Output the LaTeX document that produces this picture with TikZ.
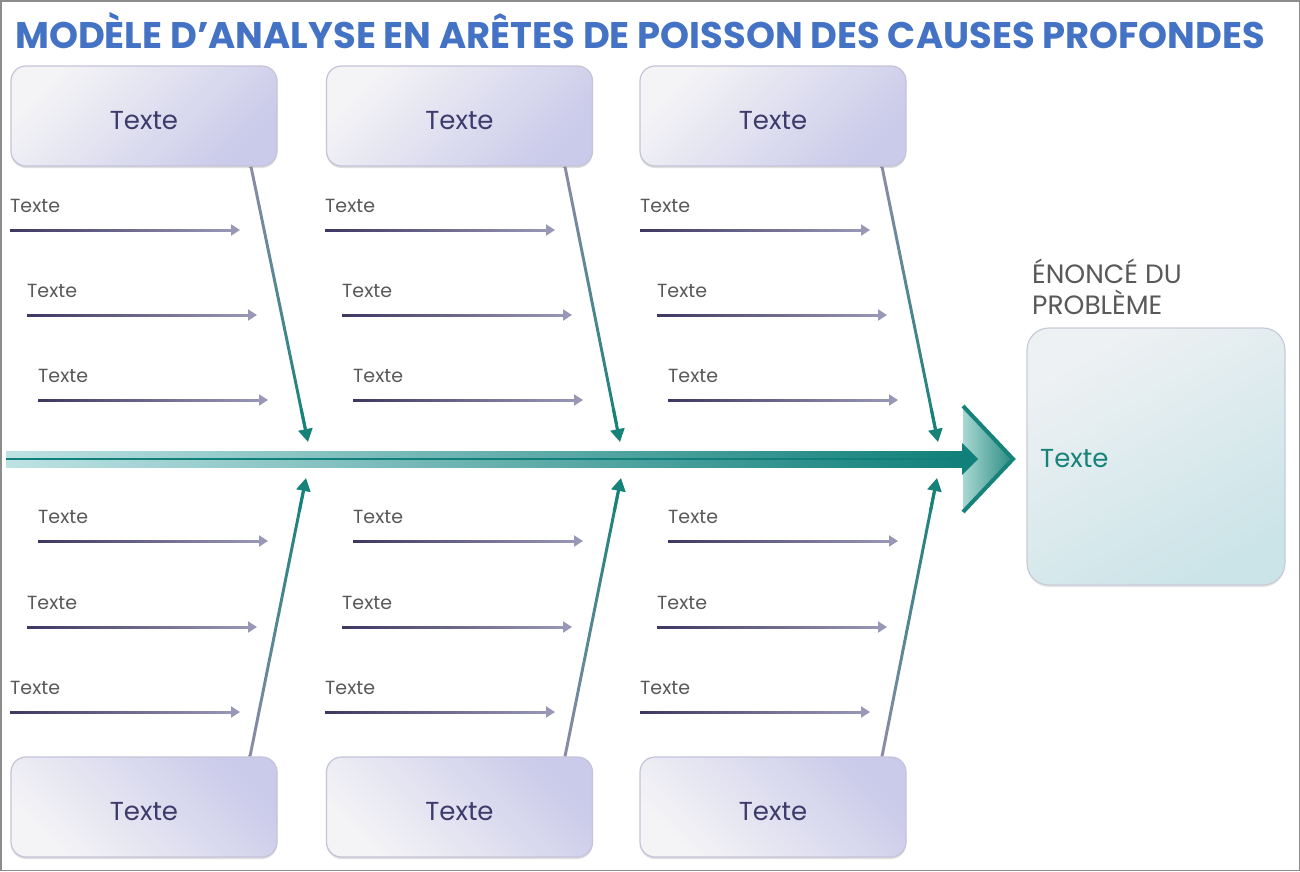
\documentclass[tikz,border=0pt]{standalone}
\usepackage{fontspec}
\setmainfont{Poppins}
\usetikzlibrary{arrows.meta,calc,shadows}
\definecolor{titleblue}{HTML}{4472C4}
\definecolor{boxtext}{HTML}{3E3A6B}
\definecolor{labelgray}{HTML}{595959}
\definecolor{boxlight}{HTML}{F4F4F6}
\definecolor{boxdark}{HTML}{CACAEA}
\definecolor{boxedge}{HTML}{C4C3D8}
\definecolor{myteal}{HTML}{17827A}
\definecolor{bonetop}{HTML}{8D8BA8}
\definecolor{arrdark}{HTML}{3D3862}
\definecolor{arrlight}{HTML}{9997B6}
\definecolor{spinelight}{HTML}{BEE2E3}
\definecolor{spinedark}{HTML}{12807A}
\definecolor{chevlight}{HTML}{A8D8D2}
\definecolor{chevdark}{HTML}{2A8B82}
\definecolor{problight}{HTML}{EEF1F3}
\definecolor{probdark}{HTML}{CBE4E8}
\definecolor{probedge}{HTML}{C9CCD8}
\definecolor{framegray}{HTML}{8C8C8C}
\newlength\titlewd
\newcommand\bonelink[4]{%
  \shade[top color=#3, bottom color=#4]
    ($(#1)+(-1.5,0)$) -- ($(#1)+(1.5,0)$) -- ($(#1)!0.95!(#2)+(1.5,0)$) -- ($(#1)!0.95!(#2)+(-1.5,0)$) -- cycle;
  \draw[myteal, line width=3pt, -{Triangle[length=13pt,width=14pt]}] ($(#1)!0.88!(#2)$) -- (#2);
}
\newcommand\twig[2]{%
  \shade[left color=arrdark, right color=arrlight] ($(#1)+(0,-1)$) rectangle ($(#2)+(-7,1)$);
  \draw[arrlight, line width=2pt, -{Triangle[length=9pt,width=11pt]}] ($(#2)+(-9,0)$) -- (#2);
}
\newcommand\boxtxt[1]{\raisebox{-13pt}[0pt][0pt]{#1}}
\AtBeginDocument{%
  \settowidth\titlewd{\fontsize{37}{40}\selectfont\bfseries MODÈLE D’ANALYSE EN ARÊTES DE POISSON DES CAUSES PROFONDES}%
  \pgfmathsetmacro\tsx{1250pt/\titlewd}%
}
\begin{document}
\begin{tikzpicture}[x=1pt,y=-1pt,
  box/.style={rectangle, rounded corners=15pt, minimum width=266pt, minimum height=100pt,
    draw=boxedge, line width=1.2pt, inner sep=0pt, text=boxtext,
    font=\fontsize{26}{30}\selectfont,
    drop shadow={shadow xshift=0pt, shadow yshift=-2pt, opacity=0.25, fill=gray}},
  topbox/.style={box, top color=boxlight, bottom color=boxdark, shading angle=45},
  botbox/.style={box, top color=boxlight, bottom color=boxdark, shading angle=135},
  lbl/.style={text=labelgray, font=\fontsize{19}{22}\selectfont, inner sep=0pt},
  problbl/.style={text=labelgray, font=\fontsize{26.5}{28}\selectfont, inner sep=0pt, anchor=base west},
  probbox/.style={rectangle, rounded corners=22pt, minimum width=258pt, minimum height=257pt,
    draw=probedge, line width=1.2pt, top color=problight, bottom color=probdark, shading angle=30,
    drop shadow={shadow xshift=0pt, shadow yshift=-2pt, opacity=0.2, fill=gray}},
]
\useasboundingbox (0,0) rectangle (1300,871);
\fill[white] (0,0) rectangle (1300,871);
\draw[framegray, line width=1.5pt] (0.75,0.75) rectangle (1299.25,870.25);

% title
\node[anchor=base west, inner sep=0pt, text=titleblue, font=\fontsize{37}{40}\selectfont\bfseries] (title) at (15,48)
  {\scalebox{\tsx}[1]{MODÈLE D’ANALYSE EN ARÊTES DE POISSON DES CAUSES PROFONDES}};

% spine
\shade[left color=spinelight, right color=spinedark] (6,451) rectangle (962,467);
\draw[spinedark, line width=2pt] (6,459) -- (962,459);
% chevron head
\shade[left color=chevlight, right color=chevdark] (963,408) -- (1013,459) -- (963,510) -- cycle;
\draw[myteal, line width=4pt, line join=miter] (963,406) -- (1013,459) -- (963,512);
\fill[spinedark] (962,443) -- (978,459) -- (962,475) -- cycle;

% boxes
\node[topbox] (t1) at (144,116) {\boxtxt{Texte}};
\node[topbox] (t2) at (459.5,116) {\boxtxt{Texte}};
\node[topbox] (t3) at (773,116) {\boxtxt{Texte}};
\node[botbox] (b1) at (144,807) {\boxtxt{Texte}};
\node[botbox] (b2) at (459.5,807) {\boxtxt{Texte}};
\node[botbox] (b3) at (773,807) {\boxtxt{Texte}};

% junctions on the spine
\coordinate (j1t) at (308,442);
\coordinate (j2t) at (620,442);
\coordinate (j3t) at (938,442);
\coordinate (j1b) at (306,478);
\coordinate (j2b) at (621,478);
\coordinate (j3b) at (937,478);
\coordinate (s1t) at ($(t1.south)+(107,0)$);
\coordinate (s2t) at ($(t2.south)+(105.5,0)$);
\coordinate (s3t) at ($(t3.south)+(109,0)$);
\coordinate (s1b) at ($(b1.north)+(106,0)$);
\coordinate (s2b) at ($(b2.north)+(105.5,0)$);
\coordinate (s3b) at ($(b3.north)+(109,0)$);

\bonelink{s1t}{j1t}{bonetop}{myteal}
\bonelink{s2t}{j2t}{bonetop}{myteal}
\bonelink{s3t}{j3t}{bonetop}{myteal}
\bonelink{s1b}{j1b}{myteal}{bonetop}
\bonelink{s2b}{j2b}{myteal}{bonetop}
\bonelink{s3b}{j3b}{myteal}{bonetop}

% small cause arrows
\foreach \c/\dx in {1/0,2/315,3/630}{
  \foreach \r/\y/\o in {1/230/0,2/315/17,3/400/28,4/541/28,5/627/17,6/712/0}{
    \coordinate (cs\c\r) at (10+\dx+\o,\y);
    \coordinate (ce\c\r) at (240+\dx+\o,\y);
    \node[lbl, anchor=base west] (cl\c\r) at ($(cs\c\r)+(0,-18)$) {Texte};
    \twig{cs\c\r}{ce\c\r}
  }
}

% problem statement
\node[problbl] (pl1) at (1032,283) {ÉNONCÉ DU};
\node[problbl] (pl2) at (1032,314) {PROBLÈME};
\node[probbox] (prob) at (1156,456.5) {};
\node[anchor=base west, inner sep=0pt, text=myteal, font=\fontsize{26}{28}\selectfont] (probtext) at (1040,467) {Texte};
\end{tikzpicture}
\end{document}
